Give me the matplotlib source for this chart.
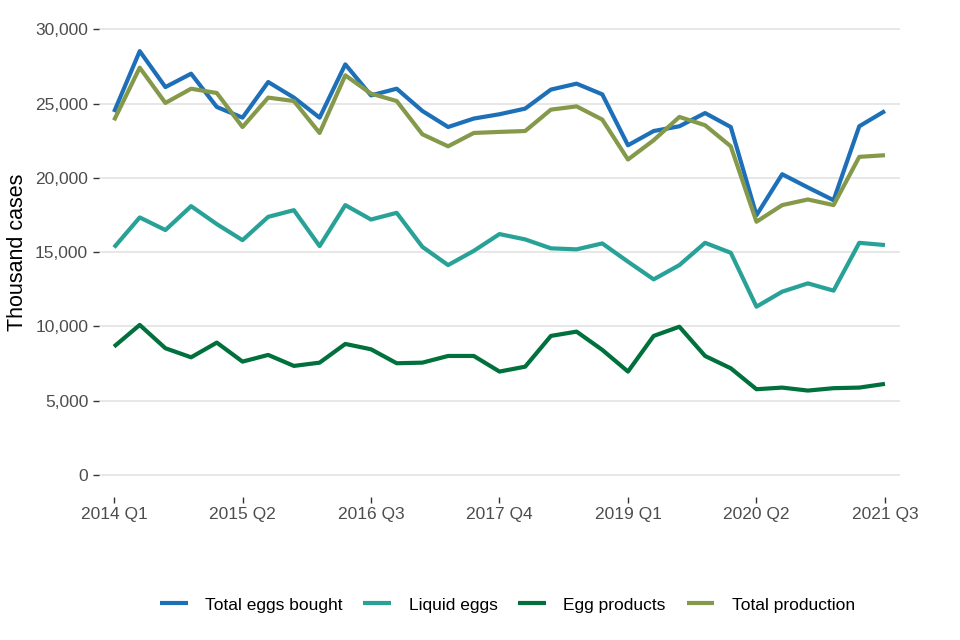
import matplotlib
matplotlib.use("Agg")
import matplotlib.pyplot as plt
from matplotlib.ticker import FuncFormatter

plt.rcParams["font.family"] = ["Liberation Sans", "DejaVu Sans"]

# Quarterly data, 2014 Q1 to 2021 Q3 (thousand cases)
quarters = [f"{y} Q{q}" for y in range(2014, 2022) for q in range(1, 5)][:31]

total_eggs_bought = [24430, 28530, 26110, 27010, 24770, 24050, 26450, 25400,
                     24050, 27640, 25550, 26000, 24500, 23420, 23990, 24280,
                     24660, 25940, 26340, 25620, 22190, 23150, 23470, 24360,
                     23420, 17480, 20240, 19350, 18490, 23470, 24500]
liquid_eggs = [15310, 17330, 16480, 18090, 16880, 15800, 17370, 17820,
               15400, 18160, 17190, 17640, 15350, 14120, 15080, 16210,
               15850, 15250, 15180, 15580, 14350, 13160, 14120, 15620,
               14950, 11320, 12330, 12890, 12400, 15620, 15470]
egg_products = [8630, 10090, 8520, 7910, 8900, 7620, 8070, 7330,
                7550, 8810, 8450, 7510, 7550, 8000, 8000, 6950,
                7280, 9350, 9640, 8410, 6950, 9350, 9970, 8000,
                7170, 5760, 5870, 5670, 5830, 5870, 6120]
total_production = [23870, 27420, 25040, 26000, 25710, 23420, 25400, 25170,
                    23020, 26900, 25670, 25170, 22930, 22120, 23020, 23090,
                    23150, 24590, 24810, 23920, 21230, 22530, 24100, 23540,
                    22120, 17040, 18160, 18540, 18160, 21410, 21520]

series = [
    ("Total eggs bought", total_eggs_bought, "#1d70b8"),
    ("Liquid eggs", liquid_eggs, "#28a197"),
    ("Egg products", egg_products, "#00703c"),
    ("Total production", total_production, "#85994b"),
]

fig = plt.figure(figsize=(9.6, 6.4), dpi=100)
ax = fig.add_axes([0.1027, 0.2234, 0.8352, 0.7656])

x = list(range(len(quarters)))
for name, vals, col in series:
    ax.plot(x, vals, color=col, lw=3.0, label=name,
            solid_joinstyle="round", solid_capstyle="butt")

ax.set_xlim(-0.6, len(quarters) - 0.4)
ax.set_ylim(-1500, 31500)
ax.set_yticks(range(0, 30001, 5000))
ax.yaxis.set_major_formatter(FuncFormatter(lambda v, p: f"{int(v):,}"))
ax.set_xticks(x[::5])
ax.set_xticklabels(quarters[::5])

ax.grid(axis="y", color="#e5e5e5", lw=1.3)
ax.set_axisbelow(True)
for s in ax.spines.values():
    s.set_visible(False)
ax.tick_params(axis="both", length=4.5, width=1, color="#333333",
               labelcolor="#4d4d4d", labelsize=12.5, pad=3)

ax.set_ylabel("Thousand cases", fontsize=15.5, color="black", labelpad=5)

ax.legend(loc="center", bbox_to_anchor=(0.5286, 0.0547),
          bbox_transform=fig.transFigure, ncol=4, frameon=False,
          fontsize=12.5, handlelength=1.6, handletextpad=1.0,
          columnspacing=1.2)

fig.savefig("out.png", dpi=100)
